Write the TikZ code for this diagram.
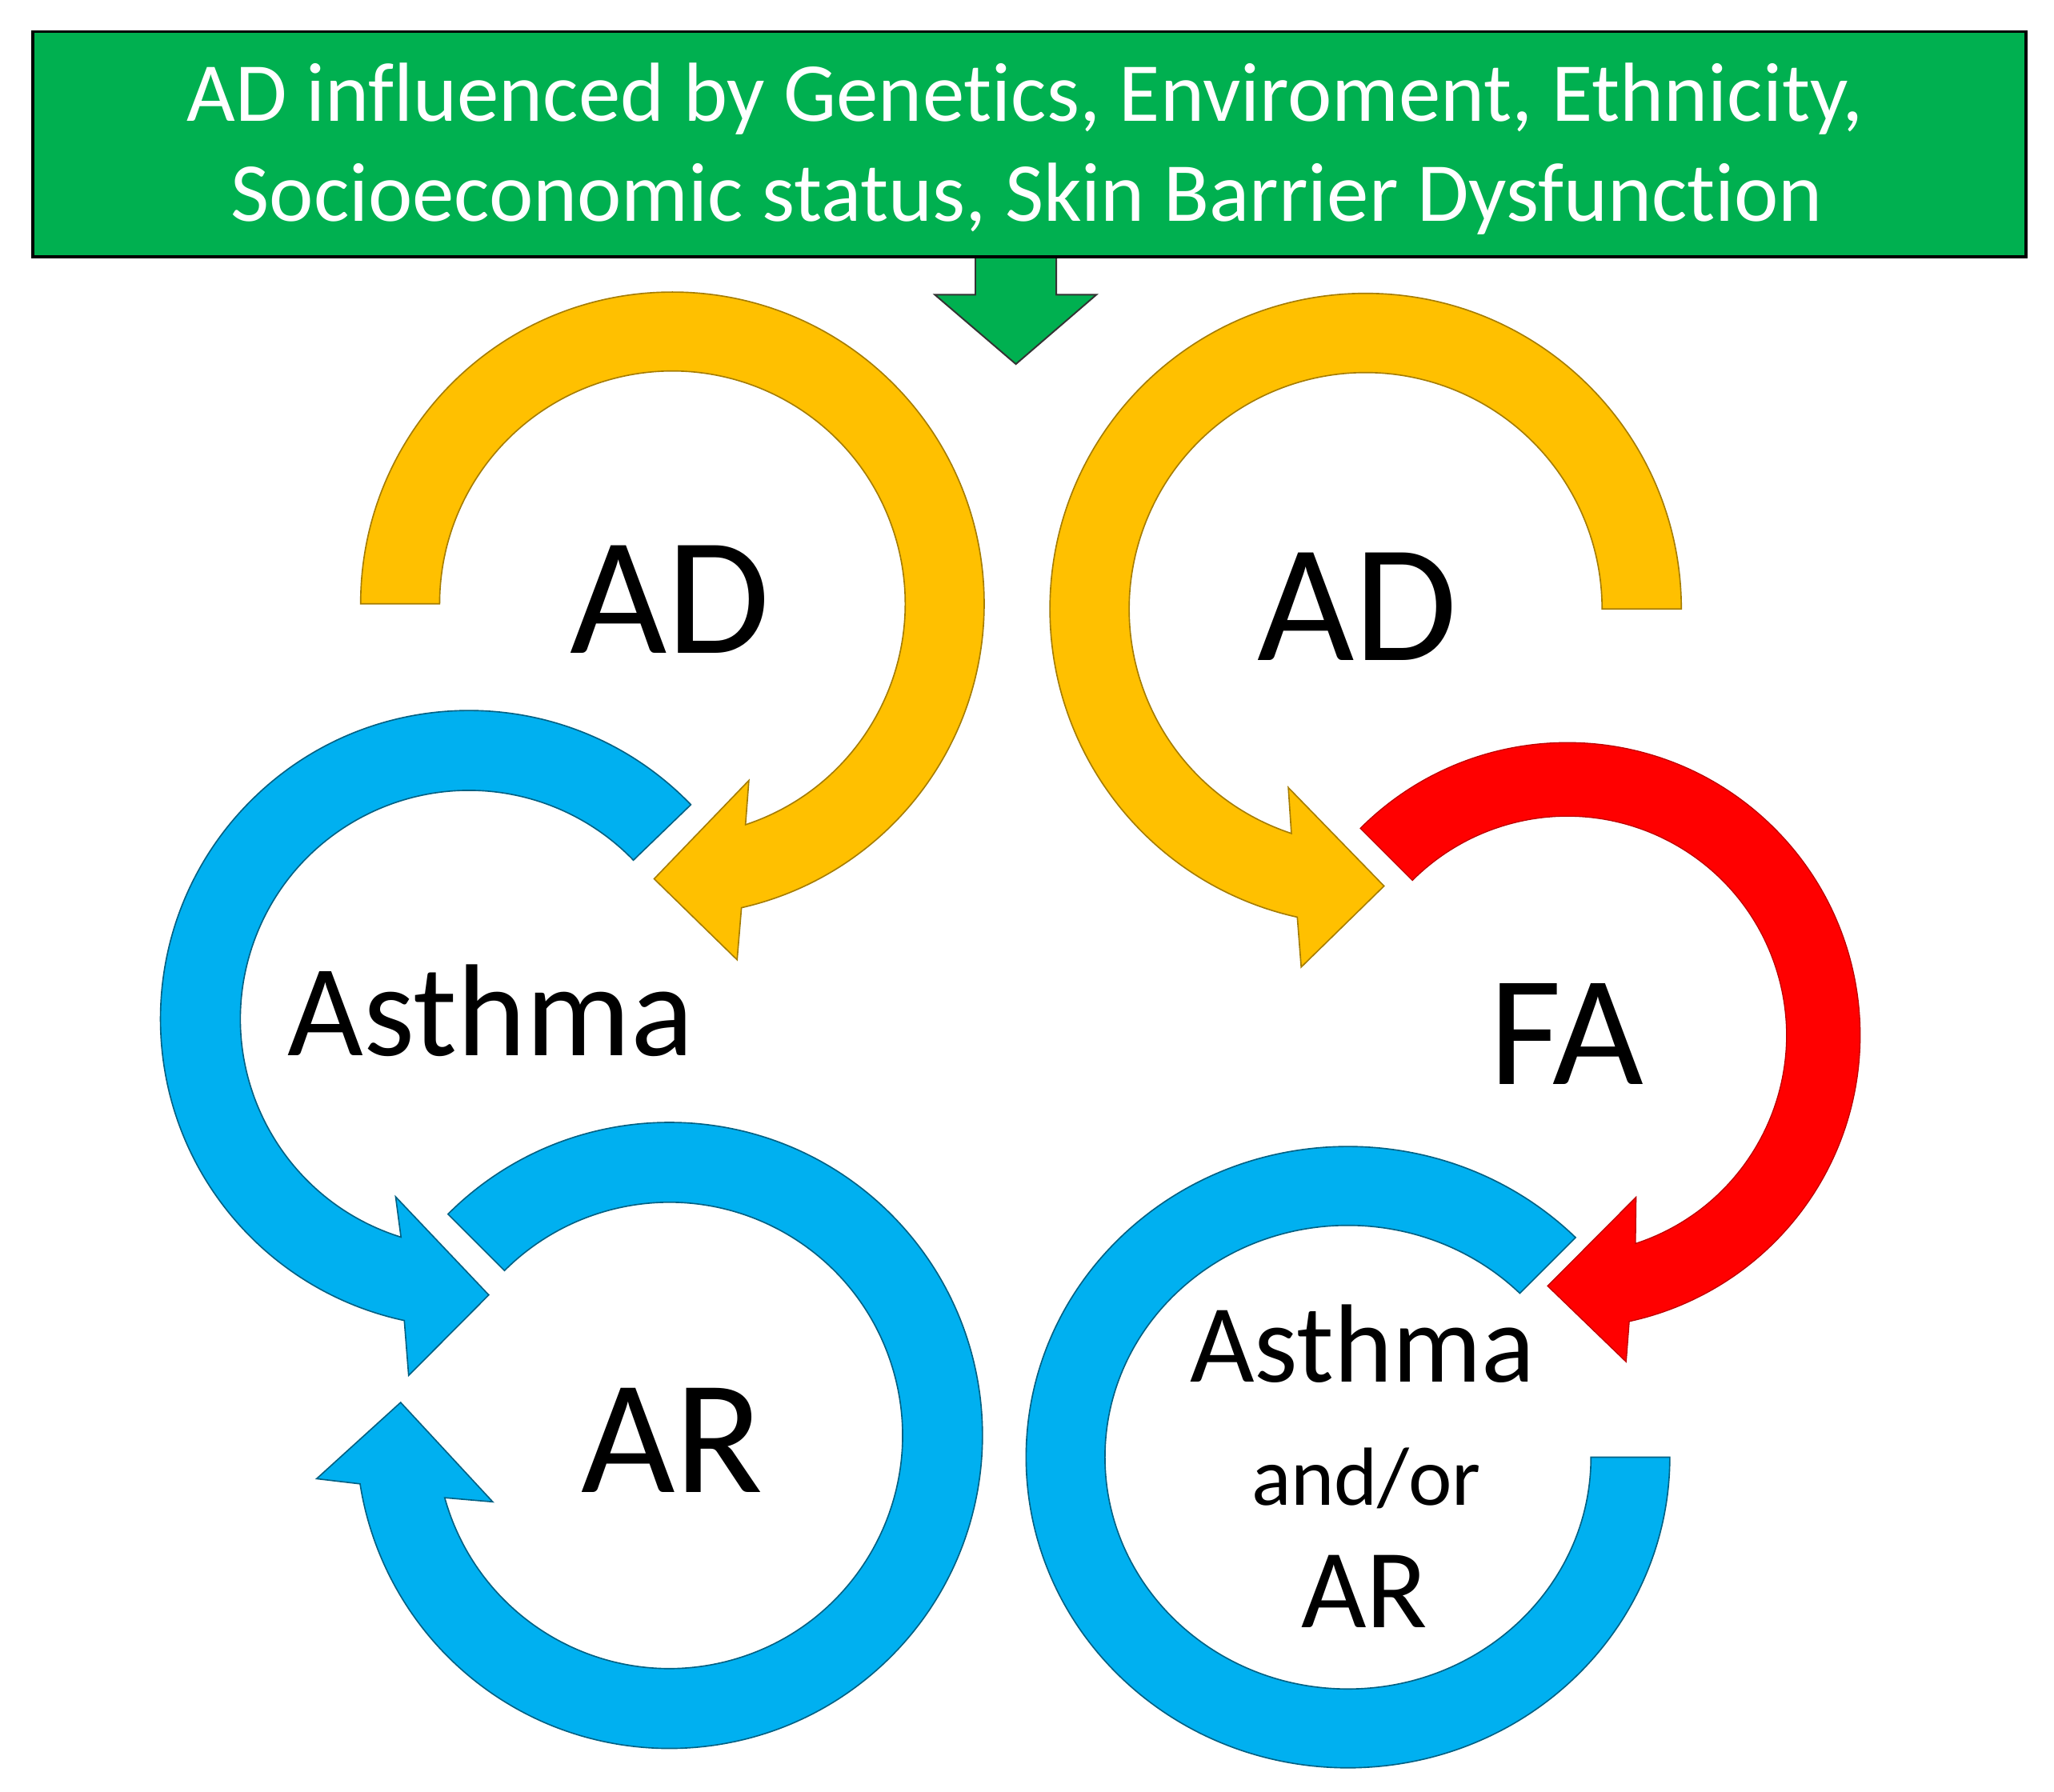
\documentclass[tikz,border=0pt]{standalone}
\usepackage{fontspec}
\setmainfont{Carlito}[Ligatures={NoCommon}]
\definecolor{boxgreen}{HTML}{00B050}
\definecolor{gold}{HTML}{FFC000}
\definecolor{skyblue}{HTML}{00B0F0}
\definecolor{brightred}{HTML}{FF0000}
\tikzset{
  ringY/.style={fill=gold, draw=gold!65!black, line width=0.5pt},
  ringB/.style={fill=skyblue, draw=skyblue!55!black, line width=0.5pt},
  ringR/.style={fill=brightred, draw=brightred!75!black, line width=0.4pt},
  lbl/.style={anchor=base, inner sep=0pt, text=black},
  boxtext/.style={anchor=base, inner sep=0pt, text=white, font=\fontsize{32}{38}\selectfont},
}
\begin{document}
\begin{tikzpicture}[x=0.5pt, y=0.5pt]
\useasboundingbox (0,0) rectangle (1568,-1368);
\fill[white] (0,0) rectangle (1568,-1368);

% green down arrow (drawn under the box)
\fill[boxgreen, draw=black!80, line width=0.6pt]
  (744.6,-190) -- (744.6,-225) -- (713.6,-225) -- (775.5,-278) -- (837,-225) -- (806.3,-225) -- (806.3,-190) -- cycle;

% top box
\node[draw=black, line width=1pt, fill=boxgreen, minimum width=760.8pt, minimum height=86pt, inner sep=0pt]
  (box) at (785.8,-110) {};
\node[boxtext] (line1) at (782.5,-92.7) {AD influenced by Genetics, Enviroment, Ethnicity,};
\node[boxtext] (line2) at (784,-169) {Socioeconomic status, Skin Barrier Dysfunction};

% yellow top-left ring (AD -> Asthma)
\begin{scope}[shift={(513.3,-461)}]
\path[ringY] (180:238) arc[start angle=180, end angle=-77.2, radius=238]
  -- (-79.7:276.3) -- (-93.8:210.5) -- (-66.6:147) -- (-71.7:177.7)
  arc[start angle=-71.7, end angle=180, radius=177.7] -- cycle;
\end{scope}

% yellow top-right ring (AD -> FA)
\begin{scope}[shift={(1042.5,-465)}]
\path[ringY] (0:241) arc[start angle=0, end angle=257.5, radius=241]
  -- (259.8:277.8) -- (273.8:212) -- (246.6:148.6) -- (251.7:180.5)
  arc[start angle=251.7, end angle=0, radius=180.5] -- cycle;
\end{scope}

% blue left ring (Asthma -> AR)
\begin{scope}[shift={(358,-778)}]
\path[ringB] (44:235.5) arc[start angle=44, end angle=257.9, radius=235.5]
  -- (260.4:276.1) -- (274.1:211.3) -- (247.6:146.9) -- (252.7:174.5)
  arc[start angle=252.7, end angle=44, radius=174.5] -- cycle;
\end{scope}

% blue AR ring
\begin{scope}[shift={(511,-1096)}]
\path[ringB] (135:239) arc[start angle=135, end angle=-171.1, radius=239]
  -- (-173:271.3) -- (-187:206.7) -- (-159.4:144.1) -- (-164.5:178)
  arc[start angle=-164.5, end angle=135, radius=178] -- cycle;
\end{scope}

% red FA ring
\begin{scope}[shift={(1196.5,-790.5)}]
\path[ringR] (135:223.5) arc[start angle=135, end angle=-77.8, radius=223.5]
  -- (-79.8:253.3) -- (-94.5:192) -- (-67:134.2) -- (-71.9:167.3)
  arc[start angle=-71.9, end angle=135, radius=167.3] -- cycle;
\end{scope}

% blue right ring (no head)
\begin{scope}[shift={(1029,-1112.6)}]
\path[ringB] (45:245.7 and 237.2) arc[start angle=45, end angle=360, x radius=245.7, y radius=237.2]
  -- (0:185.5 and 177) arc[start angle=360, end angle=45, x radius=185.5, y radius=177] -- cycle;
\end{scope}

% labels
\node[lbl, font=\fontsize{64}{70}\selectfont] (ad1) at (511.6,-498.6) {AD};
\node[lbl, font=\fontsize{64}{70}\selectfont] (ad2) at (1036.3,-504.5) {AD};
\node[lbl, font=\fontsize{50}{56}\selectfont] (asthma1) at (374.5,-805.8) {Asthma};
\node[lbl, font=\fontsize{60}{66}\selectfont] (fa) at (1195.7,-828) {FA};
\node[lbl, font=\fontsize{62}{68}\selectfont] (ar1) at (513,-1139.6) {AR};
\node[lbl, font=\fontsize{42.5}{48}\selectfont] (asthma2) at (1040,-1055.5) {Asthma};
\node[lbl, font=\fontsize{31.5}{36}\selectfont] (andor) at (1042.9,-1149.2) {and/or};
\node[lbl, font=\fontsize{43}{48}\selectfont] (ar2) at (1041.7,-1243) {AR};
\end{tikzpicture}
\end{document}
